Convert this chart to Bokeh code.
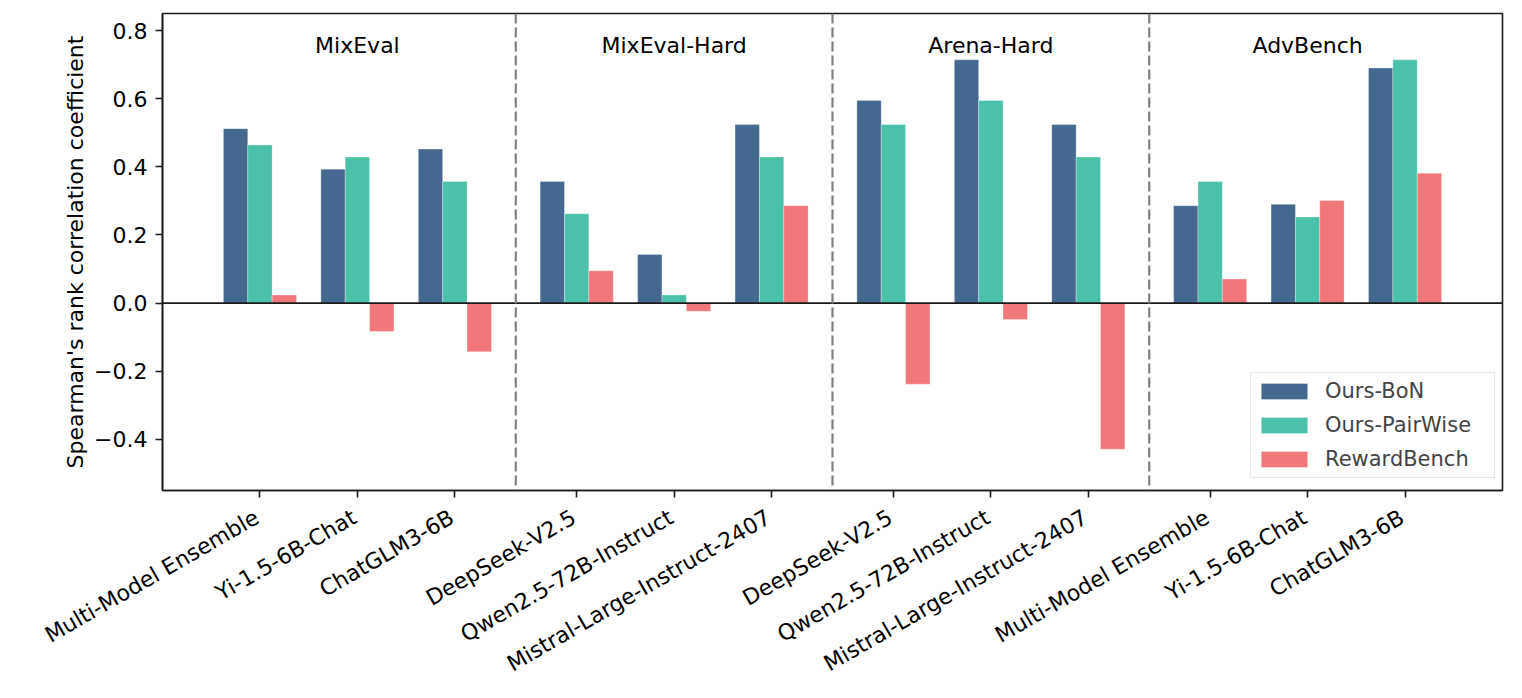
import numpy as np
from bokeh.plotting import figure
from bokeh.models import (Range1d, FixedTicker, CustomJSTickFormatter, Legend, LegendItem, Span,
                          LinearAxis)
from bokeh.core.properties import value
from bokeh.embed import file_html
from bokeh.resources import INLINE

# ---- data ----
benchmarks = ["MixEval", "MixEval-Hard", "Arena-Hard", "AdvBench"]
models = [
    ["Multi-Model Ensemble", "Yi-1.5-6B-Chat", "ChatGLM3-6B"],
    ["DeepSeek-V2.5", "Qwen2.5-72B-Instruct", "Mistral-Large-Instruct-2407"],
    ["DeepSeek-V2.5", "Qwen2.5-72B-Instruct", "Mistral-Large-Instruct-2407"],
    ["Multi-Model Ensemble", "Yi-1.5-6B-Chat", "ChatGLM3-6B"],
]
series_names = ["Ours-BoN", "Ours-PairWise", "RewardBench"]
ours_bon = [0.512, 0.393, 0.452, 0.357, 0.143, 0.524, 0.595, 0.714, 0.524, 0.286, 0.290, 0.690]
ours_pairwise = [0.464, 0.429, 0.357, 0.262, 0.024, 0.429, 0.524, 0.595, 0.429, 0.357, 0.253, 0.714]
rewardbench = [0.024, -0.083, -0.143, 0.095, -0.024, 0.286, -0.238, -0.048, -0.429, 0.071, 0.301, 0.381]
colors = ["#45688E", "#4BC1AA", "#F0777B"]
y_ticks = [-0.4, -0.2, 0.0, 0.2, 0.4, 0.6, 0.8]

FONT = "DejaVu Sans"

# positions: 3 models per benchmark, extra 0.25 gap between benchmarks
group_gap = 0.25
per = len(models[0])
positions = []
labels = []
for b, ms in enumerate(models):
    for j, m in enumerate(ms):
        positions.append(b * (per + group_gap) + j)
        labels.append(m)
positions = np.array(positions, dtype=float)
bar_w = 0.25

p = figure(width=1514, height=690, output_backend="svg", toolbar_location=None,
           x_range=Range1d(-1.0, 12.75), y_range=Range1d(-0.55, 0.85),
           min_border_left=162, min_border_right=12, min_border_top=13, min_border_bottom=199)

renderers = []
for k, (vals, col) in enumerate(zip([ours_bon, ours_pairwise, rewardbench], colors)):
    r = p.vbar(x=positions + (k - 1) * bar_w, top=vals, bottom=0, width=bar_w,
               fill_color=col, line_color="white", line_width=0.6, line_alpha=0.5)
    renderers.append(r)

# zero line
p.add_layout(Span(location=0, dimension="width", line_color="#1a1a1a", line_width=1.7))

# separators between benchmarks
for b in range(1, len(models)):
    xsep = (positions[b * per - 1] + positions[b * per]) / 2
    p.add_layout(Span(location=xsep, dimension="height", line_color="#808080",
                      line_width=2.2, line_dash="10 4"))

# benchmark titles
title_x = [float(np.mean(positions[b * per:(b + 1) * per])) for b in range(len(models))]
p.text(x=title_x, y=[0.757] * len(title_x), text=benchmarks, text_font=value(FONT),
       text_font_size="22px", text_align="center", text_baseline="middle", text_color="black")

# axes styling
p.xgrid.visible = False
p.ygrid.visible = False
p.outline_line_color = "#1a1a1a"
p.outline_line_width = 1.6
p.outline_line_alpha = 1

# main x axis: tick marks only
xa = p.xaxis[0]
xa.ticker = FixedTicker(ticks=list(positions))
xa.major_label_text_font_size = "1px"
xa.major_label_text_color = None
xa.major_label_standoff = 0
xa.minor_tick_line_color = None

# second x axis: rotated labels, anchored slightly left of the ticks (like ha='right')
label_shift = 0.03
label_ticks = [float(v) for v in positions - label_shift]
xl = LinearAxis(ticker=FixedTicker(ticks=label_ticks),
                major_label_overrides={t: lab for t, lab in zip(label_ticks, labels)})
xl.major_label_orientation = np.pi / 6
xl.axis_line_color = None
xl.major_tick_line_color = None
xl.minor_tick_line_color = None
xl.major_tick_out = 0
xl.major_tick_in = 0
xl.major_label_text_font = FONT
xl.major_label_text_font_size = "22px"
xl.major_label_text_color = "black"
xl.major_label_standoff = 18
p.add_layout(xl, "below")

ya = p.yaxis[0]
ya.ticker = FixedTicker(ticks=y_ticks)
ya.formatter = CustomJSTickFormatter(code="return tick.toFixed(1).replace('-', '\u2212');")
ya.minor_tick_line_color = None
ya.axis_label = "Spearman's rank correlation coefficient"
ya.axis_label_text_font = FONT
ya.axis_label_text_font_size = "22px"
ya.axis_label_text_font_style = "normal"
ya.axis_label_text_color = "black"
ya.axis_label_standoff = 3
ya.major_label_text_font = FONT
ya.major_label_text_font_size = "22px"
ya.major_label_text_color = "black"
ya.major_label_standoff = 8

for ax in (xa, ya):
    ax.axis_line_color = "#1a1a1a"
    ax.axis_line_width = 1.6
    ax.major_tick_line_color = "#1a1a1a"
    ax.major_tick_line_width = 1.6
    ax.major_tick_out = 7
    ax.major_tick_in = 0

legend = Legend(items=[LegendItem(label=n, renderers=[r]) for n, r in zip(series_names, renderers)],
                location=(1088, 12))
legend.label_text_font = FONT
legend.label_text_font_size = "21px"
legend.glyph_width = 58
legend.glyph_height = 20
legend.label_height = 28
legend.label_width = 165
legend.spacing = 6
legend.padding = 4
legend.margin = 0
legend.label_standoff = 12
legend.border_line_color = "#cccccc"
legend.border_line_width = 1.5
legend.background_fill_alpha = 0.85
p.add_layout(legend, "center")

open("out.html", "w").write(file_html(p, INLINE))
